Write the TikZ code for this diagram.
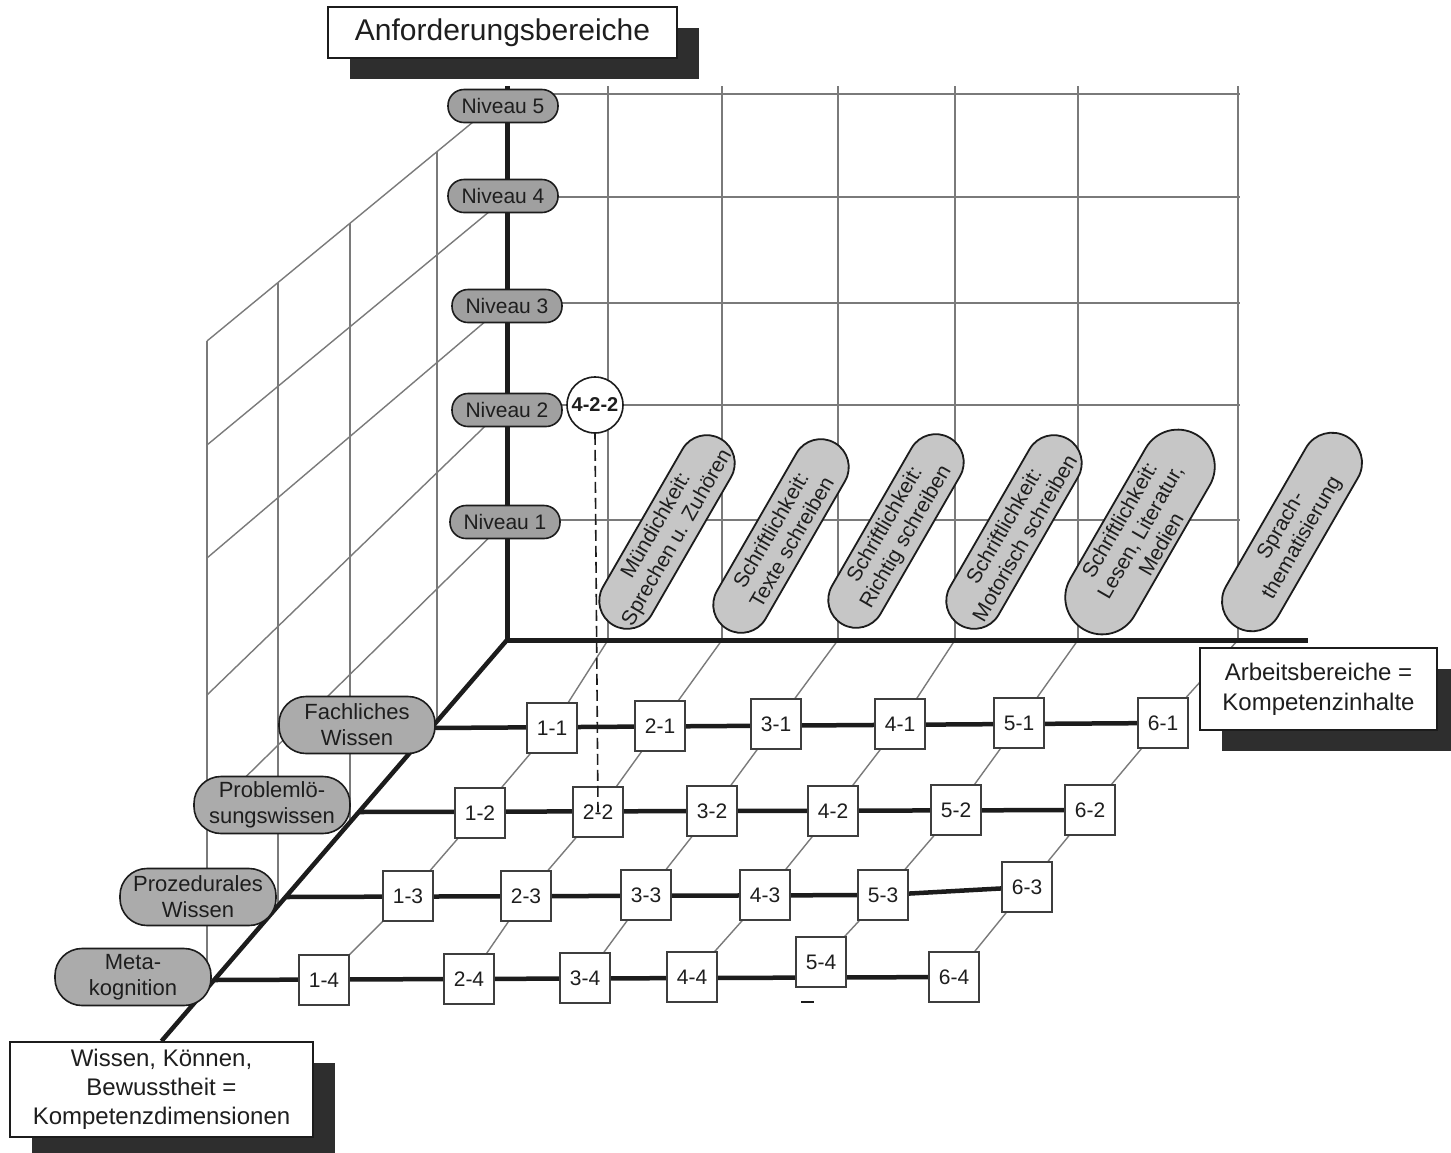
\documentclass[tikz,border=0pt]{standalone}
\usepackage{fontspec}
\setmainfont{Liberation Sans}
\usetikzlibrary{shadows,calc}
\pgfdeclarelayer{bg}
\pgfsetlayers{bg,main}
\definecolor{gridc}{HTML}{7A7A7A}
\definecolor{axisc}{HTML}{1C1C1C}
\definecolor{nivc}{HTML}{A0A0A0}
\definecolor{dimc}{HTML}{ABABAB}
\definecolor{pillc}{HTML}{C6C6C6}
\definecolor{shadc}{HTML}{2E2E2E}
\definecolor{txtc}{HTML}{1E1E1E}
\begin{document}
\begin{tikzpicture}[x=1pt,y=-1pt,
  gridline/.style={draw=gridc,line width=1.4pt},
  axisline/.style={draw=axisc,line width=5pt},
  rowline/.style={draw=axisc,line width=4.5pt},
  cellbox/.style={draw=axisc!85,line width=1.8pt,fill=white,minimum width=50pt,minimum height=50pt,inner sep=0pt,font=\fontsize{21}{24}\selectfont,text=txtc},
  nivlabel/.style={draw=axisc,line width=1.6pt,fill=nivc,rounded corners=16pt,minimum width=110pt,minimum height=33pt,inner sep=0pt,font=\fontsize{21}{24}\selectfont,text=txtc},
  dimlabel/.style={draw=axisc,line width=1.6pt,fill=dimc,rounded corners=27pt,minimum width=156pt,minimum height=57pt,inner sep=0pt,align=center,font=\fontsize{22}{26}\selectfont,text=txtc},
  pill/.style={draw=axisc,line width=1.8pt,fill=pillc,rotate=60,inner sep=0pt,align=center,font=\fontsize{21}{24}\selectfont,text=txtc},
  infobox/.style={draw=axisc,line width=1.8pt,fill=white,inner sep=0pt,align=center,text=txtc,drop shadow={shadow xshift=22pt,shadow yshift=-21pt,fill=shadc,opacity=1}},
  dashline/.style={draw=axisc,line width=1.6pt,dash pattern=on 11pt off 5pt},
]
\useasboundingbox (0,0) rectangle (1451,1152);

% info boxes
\node[infobox,minimum width=349pt,minimum height=51pt,font=\fontsize{30}{34}\selectfont] (title) at (502.5,32.5) {Anforderungsbereiche};
\node[infobox,minimum width=237pt,minimum height=82pt,font=\fontsize{24}{30}\selectfont] (arb) at (1318.5,689) {Arbeitsbereiche =\\Kompetenzinhalte};
\node[infobox,minimum width=303pt,minimum height=95pt,font=\fontsize{24}{29}\selectfont] (wis) at (161.5,1089.5) {Wissen, Können,\\Bewusstheit =\\Kompetenzdimensionen};

% cells
\node[cellbox] (b11) at (552,728) {1-1};
\node[cellbox] (b21) at (660,726) {2-1};
\node[cellbox] (b31) at (776,724) {3-1};
\node[cellbox] (b41) at (900,724) {4-1};
\node[cellbox] (b51) at (1019,723) {5-1};
\node[cellbox] (b61) at (1163,723) {6-1};
\node[cellbox] (b12) at (480,813) {1-2};
\node[cellbox] (b22) at (598,812) {2-2};
\node[cellbox] (b32) at (712,811) {3-2};
\node[cellbox] (b42) at (833,811) {4-2};
\node[cellbox] (b52) at (956,810) {5-2};
\node[cellbox] (b62) at (1090,810) {6-2};
\node[cellbox] (b13) at (408,896) {1-3};
\node[cellbox] (b23) at (526,896) {2-3};
\node[cellbox] (b33) at (646,895) {3-3};
\node[cellbox] (b43) at (765,895) {4-3};
\node[cellbox] (b53) at (883,895) {5-3};
\node[cellbox] (b63) at (1027,887) {6-3};
\node[cellbox] (b14) at (324,980) {1-4};
\node[cellbox] (b24) at (469,979) {2-4};
\node[cellbox] (b34) at (585,978) {3-4};
\node[cellbox] (b44) at (692,977) {4-4};
\node[cellbox] (b54) at (821,962) {5-4};
\node[cellbox] (b64) at (954,977) {6-4};

% dimension labels
\node[dimlabel] (d1) at (357,725) {Fachliches\\Wissen};
\node[dimlabel] (d2) at (272,805) {Problemlö-\\sungswissen};
\node[dimlabel] (d3) at (198,897) {Prozedurales\\Wissen};
\node[dimlabel] (d4) at (133,977) {Meta-\\kognition};

% Niveau labels
\node[nivlabel] (n5) at (503,106) {Niveau 5};
\node[nivlabel] (n4) at (503,196) {Niveau 4};
\node[nivlabel] (n3) at (507,306) {Niveau 3};
\node[nivlabel] (n2) at (507,410) {Niveau 2};
\node[nivlabel] (n1) at (505,522) {Niveau 1};

% circle
\node[circle,draw=axisc,line width=1.6pt,fill=white,minimum size=56pt,inner sep=0pt,font=\bfseries\fontsize{20}{22}\selectfont,text=txtc] (c422) at (595,405) {4-2-2};

% content pills
\node[pill,minimum width=215pt,minimum height=56pt,rounded corners=28pt] (p1) at (667,532) {Mündichkeit:\\Sprechen u. Zuhören};
\node[pill,minimum width=215pt,minimum height=56pt,rounded corners=28pt] (p2) at (781,536) {Schriftlichkeit:\\Texte schreiben};
\node[pill,minimum width=215pt,minimum height=56pt,rounded corners=28pt] (p3) at (896,531) {Schriftlichkeit:\\Richtig schreiben};
\node[pill,minimum width=215pt,minimum height=56pt,rounded corners=28pt] (p4) at (1014,532) {Schriftlichkeit:\\Motorisch schreiben};
\node[pill,minimum width=225pt,minimum height=74pt,rounded corners=37pt] (p5) at (1140,532) {Schriftlichkeit:\\Lesen, Literatur,\\Medien};
\node[pill,minimum width=220pt,minimum height=60pt,rounded corners=30pt] (p6) at (1292,532) {Sprach-\\thematisierung};

% axis coordinates
\coordinate (O) at (507,640);
\coordinate (vtop) at (507,86);
\coordinate (hend) at (1308,640);

\begin{pgfonlayer}{bg}
  \fill[white] (0,0) rectangle (1451,1152);
  % back wall grid
  \foreach \y in {94,197,303,405,520} \draw[gridline] (507,\y) -- (1240,\y);
  \foreach \x in {608,722,838,955,1078,1238} \draw[gridline] (\x,86) -- (\x,640);
  % left wall grid
  \draw[gridline] (507,94) -- (207,341);
  \draw[gridline] (507,197) -- (207,445);
  \draw[gridline] (507,303) -- (207,558);
  \draw[gridline] (507,405) -- (207,695);
  \draw[gridline] (507,520) -- (207,815);
  \draw[gridline] (437,152) -- (437,721);
  \draw[gridline] (350,223) -- (350,822);
  \draw[gridline] (278,283) -- (278,905);
  \draw[gridline] (207,341) -- (207,988);
  % floor columns
  \foreach \c/\fx in {1/608,2/722,3/838,4/955,5/1078,6/1238}
    \draw[gridline] (\fx,640) -- (b\c1.center) -- (b\c2.center) -- (b\c3.center) -- (b\c4.center);
  % axes
  \draw[axisline] (vtop) -- (O);
  \draw[axisline,line width=4.5pt] (O) -- (wis.north);
  % row lines
  \draw[rowline] (433,728) -- (b61.center);
  \draw[rowline] (359,812) -- (b62.center);
  \draw[rowline] (285,897) -- (b53.center) -- (b63.center);
  \draw[rowline] (214,980) -- (b64.center);
\end{pgfonlayer}

% horizontal axis over pill bottoms
\draw[axisline] (O) -- (hend);

% dashed projection line
\draw[dashline] (c422.south) -- (b22.center);

% small mark below 5-4
\draw[draw=axisc,line width=1.5pt] (801,1002) -- (814,1002);
\end{tikzpicture}
\end{document}
